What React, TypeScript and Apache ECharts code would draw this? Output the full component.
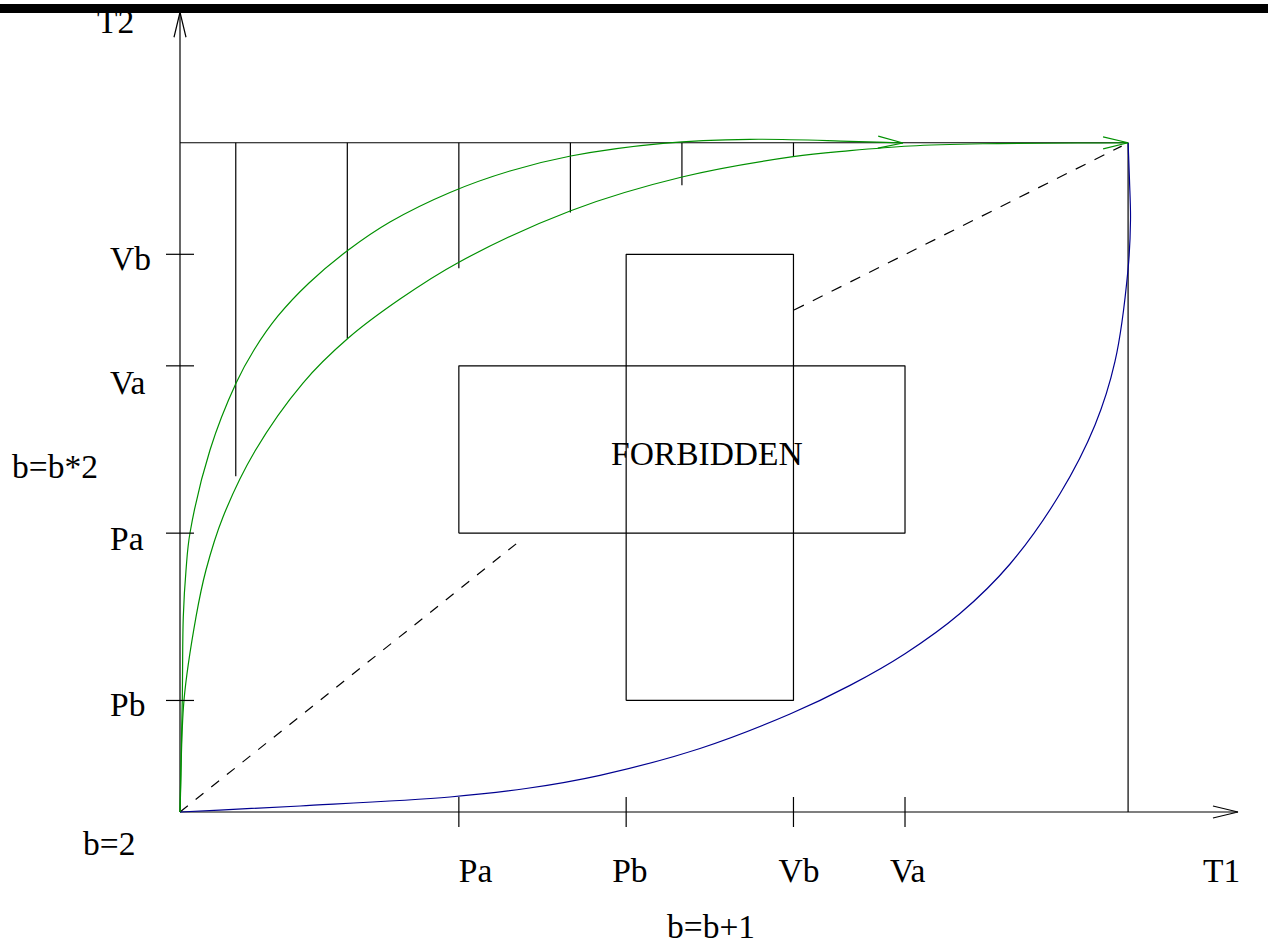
import React, { useEffect, useRef } from "react";
import * as echarts from "echarts";

// ---- axis extents & bounds (data units) ----
const xAxisEnd = 18.97;
const yAxisEnd = 14.34;
const limitX = 17;
const limitY = 12;

// ---- ticks ----
const xTickValues = [5, 8, 11, 13];
const xTickLabels = ["Pa", "Pb", "Vb", "Va"];
const yTickValues = [2, 5, 8, 10];
const yTickLabels = ["Pb", "Pa", "Va", "Vb"];

// ---- vertical drop lines from the top bound ----
const dropX = [1, 3, 5, 7, 9, 11];
const dropBottomY = [6.02, 8.49, 9.75, 10.75, 11.24, 11.75];

// ---- green curve (fast, ends with arrow mid-way) ----
const fastX = [0, 0.041, 0.059, 0.108, 0.179, 0.538, 1.004, 1.327, 1.757, 2.313, 3.018, 3.765, 4.841, 5.917, 7.006, 8.661, 10.221, 12.014, 12.964];
const fastY = [0, 2.008, 3.497, 4.339, 5.003, 6.491, 7.687, 8.284, 8.894, 9.486, 10.077, 10.579, 11.109, 11.494, 11.763, 11.99, 12.062, 12.026, 11.996];

// ---- green curve (slow, ends with arrow at corner) ----
const slowX = [0, 0.072, 0.287, 0.466, 0.771, 1.345, 2.205, 3.018, 3.945, 4.985, 7.006, 9.001, 10.992, 12.014, 13.09, 14.398, 17];
const slowY = [0, 2.008, 3.497, 4.339, 5.29, 6.473, 7.692, 8.499, 9.198, 9.85, 10.782, 11.386, 11.75, 11.858, 11.942, 11.982, 12];

// ---- blue curve ----
const blueX = [0, 2.152, 4.841, 6.204, 7.531, 9.324, 10.938, 12.014, 13.0, 13.986, 14.883, 15.779, 16.407, 16.765, 16.998, 17.043, 17.025, 17];
const blueY = [0, 0.108, 0.269, 0.421, 0.658, 1.139, 1.757, 2.27, 2.838, 3.559, 4.447, 5.706, 6.939, 8.078, 9.719, 10.615, 11.332, 12];

// ---- forbidden rectangles [x0, x1], [y0, y1] ----
const wideRectX = [5, 13];
const wideRectY = [5, 8];
const tallRectX = [8, 11];
const tallRectY = [2, 10];

// ---- dashed segments ----
const lowDashX = [0, 6.114];
const lowDashY = [0, 4.877];
const highDashX = [11.01, 16.885];
const highDashY = [9.0, 11.94];

// ---- free texts ----
const annotationTexts = ["T2", "b=b*2", "b=2", "b=b+1", "T1", "FORBIDDEN"];

const BLACK = "#000000";
const GREEN = "#009000";
const BLUE = "#000090";
const FONT_FAMILY = '"Liberation Serif", "Times New Roman", serif';
const FONT_SIZE = 33.5;

// centripetal Catmull-Rom through pixel points -> SVG path data
function splinePath(pts: number[][]): string {
  const n = pts.length;
  const get = (i: number) => {
    if (i < 0) return [2 * pts[0][0] - pts[1][0], 2 * pts[0][1] - pts[1][1]];
    if (i >= n) return [2 * pts[n - 1][0] - pts[n - 2][0], 2 * pts[n - 1][1] - pts[n - 2][1]];
    return pts[i];
  };
  const dist = (a: number[], b: number[]) => Math.max(Math.pow(Math.hypot(a[0] - b[0], a[1] - b[1]), 0.5), 1e-6);
  let d = `M${pts[0][0]},${pts[0][1]}`;
  for (let i = 0; i < n - 1; i++) {
    const p0 = get(i - 1);
    const p1 = pts[i];
    const p2 = pts[i + 1];
    const p3 = get(i + 2);
    const d1 = dist(p0, p1);
    const d2 = dist(p1, p2);
    const d3 = dist(p2, p3);
    const b1 = [0, 1].map(
      (k) => (d1 * d1 * p2[k] - d2 * d2 * p0[k] + (2 * d1 * d1 + 3 * d1 * d2 + d2 * d2) * p1[k]) / (3 * d1 * (d1 + d2))
    );
    const b2 = [0, 1].map(
      (k) => (d3 * d3 * p1[k] - d2 * d2 * p3[k] + (2 * d3 * d3 + 3 * d3 * d2 + d2 * d2) * p2[k]) / (3 * d3 * (d3 + d2))
    );
    d += ` C${b1[0]},${b1[1]} ${b2[0]},${b2[1]} ${p2[0]},${p2[1]}`;
  }
  return d;
}

export default function App() {
  const ref = useRef<HTMLDivElement>(null);

  useEffect(() => {
    const chart = echarts.init(ref.current!, null, { renderer: "svg" });
    const pair = (xs: number[], ys: number[]) => xs.map((x, i) => [x, ys[i]]);
    const lw = 1.2;

    const line = (data: number[][], color: string, extra: any = {}) => ({
      type: "line",
      data,
      symbol: "none",
      showSymbol: false,
      clip: false,
      silent: true,
      z: extra.z ?? 2,
      lineStyle: { color, width: lw, type: extra.dash ?? "solid", cap: "butt" },
    });

    const curve = (xs: number[], ys: number[], color: string, z: number) => ({
      type: "custom",
      data: pair(xs, ys),
      clip: false,
      silent: true,
      z,
      encode: { x: 0, y: 1 },
      renderItem: (params: any, api: any) => {
        if (params.dataIndex !== 0) return null;
        const pts = xs.map((x, i) => api.coord([x, ys[i]]));
        return {
          type: "path",
          shape: { pathData: splinePath(pts) },
          style: { stroke: color, fill: "none", lineWidth: lw },
        };
      },
    });

    const rect = (xs: number[], ys: number[]) =>
      pair([xs[0], xs[1], xs[1], xs[0], xs[0]], [ys[0], ys[0], ys[1], ys[1], ys[0]]);

    const series: any[] = [];
    // axes
    series.push(line([[0, 0], [xAxisEnd, 0]], BLACK));
    series.push(line([[0, 0], [0, yAxisEnd]], BLACK));
    // bounds
    series.push(line([[0, limitY], [limitX, limitY]], BLACK));
    series.push(line([[limitX, 0], [limitX, limitY]], BLACK));
    // drops
    dropX.forEach((x, i) => series.push(line([[x, limitY], [x, dropBottomY[i]]], BLACK)));
    // rectangles
    series.push(line(rect(wideRectX, wideRectY), BLACK));
    series.push(line(rect(tallRectX, tallRectY), BLACK));
    // dashed
    series.push(line(pair(lowDashX, lowDashY), BLACK, { dash: [10, 10] }));
    series.push(line(pair(highDashX, highDashY), BLACK, { dash: [11, 10] }));
    // curves
    series.push(curve(blueX, blueY, BLUE, 3));
    series.push(curve(slowX, slowY, GREEN, 4));
    series.push(curve(fastX, fastY, GREEN, 4));

    // arrowheads: [tipX, tipY, fromX, fromY, colorIdx]
    const arrowColors = [BLACK, GREEN];
    const n = fastX.length;
    const m = slowX.length;
    const arrows = [
      [xAxisEnd, 0, 0, 0, 0],
      [0, yAxisEnd, 0, 0, 0],
      [fastX[n - 1], fastY[n - 1], fastX[n - 2], fastY[n - 2], 1],
      [slowX[m - 1], slowY[m - 1], slowX[m - 2], slowY[m - 2], 1],
    ];
    series.push({
      type: "custom",
      data: arrows,
      clip: false,
      silent: true,
      z: 5,
      encode: { x: 0, y: 1 },
      renderItem: (_p: any, api: any) => {
        const tip = api.coord([api.value(0), api.value(1)]);
        const from = api.coord([api.value(2), api.value(3)]);
        const dx = tip[0] - from[0];
        const dy = tip[1] - from[1];
        const len = Math.hypot(dx, dy) || 1;
        const ux = dx / len;
        const uy = dy / len;
        const L = 25;
        const W = 6;
        const p1 = [tip[0] - ux * L - uy * W, tip[1] - uy * L + ux * W];
        const p2 = [tip[0] - ux * L + uy * W, tip[1] - uy * L - ux * W];
        return {
          type: "polyline",
          shape: { points: [p1, tip, p2] },
          style: { stroke: arrowColors[api.value(4)], fill: "none", lineWidth: lw },
        };
      },
    });

    const textStyle = (text: string, x: number, y: number) => ({
      text,
      x,
      y,
      fill: BLACK,
      fontSize: FONT_SIZE,
      fontFamily: FONT_FAMILY,
      lineHeight: 28,
      align: "left",
      verticalAlign: "middle",
      textAlign: "left",
      textVerticalAlign: "middle",
    });

    // x ticks with labels
    const xLabelShift = [0, -14, -15, -15];
    series.push({
      type: "custom",
      data: xTickValues.map((v, i) => [v, 0, i]),
      clip: false,
      silent: true,
      z: 5,
      encode: { x: 0, y: 1 },
      renderItem: (_p: any, api: any) => {
        const i = api.value(2);
        const c = api.coord([api.value(0), 0]);
        return {
          type: "group",
          children: [
            { type: "line", shape: { x1: c[0], y1: c[1] - 15, x2: c[0], y2: c[1] + 15 }, style: { stroke: BLACK, lineWidth: lw } },
            { type: "text", style: textStyle(xTickLabels[i], c[0] + xLabelShift[i], c[1] + 58.5) },
          ],
        };
      },
    });

    // y ticks with labels
    const yLabelShift = [4, 5, 17, 4];
    series.push({
      type: "custom",
      data: yTickValues.map((v, i) => [0, v, i]),
      clip: false,
      silent: true,
      z: 5,
      encode: { x: 0, y: 1 },
      renderItem: (_p: any, api: any) => {
        const i = api.value(2);
        const c = api.coord([0, api.value(1)]);
        return {
          type: "group",
          children: [
            { type: "line", shape: { x1: c[0] - 14, y1: c[1], x2: c[0] + 14, y2: c[1] }, style: { stroke: BLACK, lineWidth: lw } },
            { type: "text", style: textStyle(yTickLabels[i], 110, c[1] + yLabelShift[i]) },
          ],
        };
      },
    });

    const annotationPos = [
      [97, 21.5],
      [12, 466],
      [83, 843],
      [667, 926],
      [1203, 870.5],
      [611, 453],
    ];

    const graphic: any[] = annotationTexts.map((t, i) => ({
      type: "text",
      z: 50,
      style: textStyle(t, annotationPos[i][0], annotationPos[i][1]),
    }));
    graphic.push({
      type: "rect",
      z: 100,
      shape: { x: 0, y: 4, width: 1268, height: 9 },
      style: { fill: BLACK },
    });

    const unit = 55.77;
    chart.setOption({
      animation: false,
      backgroundColor: "#ffffff",
      grid: { left: 180, top: 812 - 14.5 * unit, width: 19 * unit, height: 14.5 * unit },
      xAxis: { type: "value", min: 0, max: 19, show: false },
      yAxis: { type: "value", min: 0, max: 14.5, show: false },
      series,
      graphic,
    });

    return () => chart.dispose();
  }, []);

  return (
    <div
      ref={ref}
      style={{ position: "absolute", left: 0, top: 0, width: 1268, height: 943, background: "#fff" }}
    />
  );
}
